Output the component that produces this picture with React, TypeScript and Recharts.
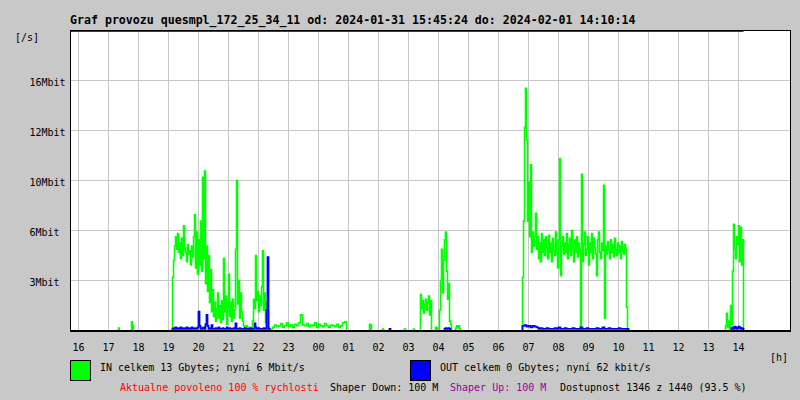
import React from 'react';
import { LineChart, Line, XAxis, YAxis, CartesianGrid, ReferenceLine } from 'recharts';

// ---- axis labels ----
const hourLabels = ['16', '17', '18', '19', '20', '21', '22', '23', '00', '01', '02', '03', '04', '05', '06', '07', '08', '09', '10', '11', '12', '13', '14'];
const yTicks = [3.2, 6.4, 9.6, 12.8, 16];
const yTickLabels = ['3Mbit', '6Mbit', '10Mbit', '12Mbit', '16Mbit'];

// time = minutes after 16:00 (Jan 31); window 15:44 .. 15:44 next day
const windowStart = -16;
const windowEnd = 1424;
const nowMinute = 1330; // 14:10
const limitMbit = 19.136; // allowed rate line (clipped at the top)
const yMax = 19.2;

// ---- IN traffic [Mbit/s] ----
const inEveningStart = 188; // 19:08, every 2 min
const inEvening = [
  3.4, 4.5, 5.4, 6.0, 5.2, 6.2, 5.0, 5.6, 4.6, 5.9, 4.8, 6.7, 5.3, 5.0, 4.4, 5.5, 4.9, 5.1, 4.2, 5.4,
  4.7, 6.0, 7.4, 4.0, 6.3, 3.6, 5.8, 4.2, 7.0, 3.8, 9.8, 4.6, 10.2, 3.0, 5.4, 2.5, 4.8, 1.8, 3.9, 1.2,
  2.6, 0.9, 1.8, 0.6, 1.4, 2.4, 0.8, 1.6, 0.5, 1.9, 0.7, 4.6, 1.2, 2.2, 0.4, 1.5, 3.6, 0.9, 1.8, 0.6,
  2.0, 0.8, 1.3, 5.2, 9.6, 1.7, 3.2, 0.8, 2.4, 1.2, 0.6, 0.3, 0.2, 0.1, 0.3, 0.1, 0.2, 0.1, 0.0, 0.1,
  0.6, 2.0, 1.4, 4.8, 1.9, 2.5, 1.2, 2.2, 1.6, 2.8, 5.1, 1.3, 2.4, 0.5, 1.8, 1.2, 0.2, 0.0, 0.1,
];
const inNightStart = 388; // 22:28, every 4 min
const inNight = [
  0.2, 0.35, 0.25, 0.3, 0.45, 0.2, 0.3, 0.5, 0.25, 0.35, 0.2, 0.4, 0.3, 0.5, 1.0, 0.35, 0.3, 0.45, 0.25,
  0.35, 0.3, 0.5, 0.2, 0.4, 0.3, 0.25, 0.45, 0.3, 0.2, 0.35, 0.3, 0.25, 0.4, 0.2, 0.3, 0.5, 0.55,
];
const inBlips: [number, number][] = [
  [80, 0.15], [106, 0.55], [108, 0.3], [582, 0.4], [584, 0.35], [608, 0.1], [652, 0.1], [670, 0.1], [714, 0.2], [716, 0.15],
];
const inDawnStart = 684; // 03:24
const inDawn = [2.3, 1.4, 1.9, 1.1, 1.7, 2.0, 1.3, 1.8, 2.2, 1.0, 1.9];
const inEarlyStart = 722; // 04:02
const inEarly = [1.3, 3.2, 5.2, 2.4, 4.5, 5.8, 6.3, 3.8, 2.0, 3.0, 0.6, 0.4];
const inLateDawnStart = 754;
const inLateDawn = [0.15, 0.3, 0.2, 0.3, 0.1];
const inMorningStart = 888; // 06:48
const inMorning = [
  3.4, 7.0, 13.0, 15.5, 12.2, 7.0, 9.5, 6.0, 10.6, 5.0, 6.3, 5.4, 6.0, 7.5, 5.2, 6.0, 4.6, 5.6, 4.4, 6.2,
  5.0, 5.8, 4.8, 6.0, 5.3, 4.6, 6.1, 5.0, 5.6, 4.4, 5.9, 5.1, 4.8, 6.3, 5.0, 4.0, 5.8, 11.0, 3.5, 5.4,
  6.0, 4.9, 5.6, 5.0, 6.2, 4.6, 5.5, 5.9, 4.8, 6.4, 5.2, 4.4, 5.8, 5.0, 6.0, 4.7, 5.6, 5.2, 0.1, 10.0,
  4.4, 5.5, 6.3, 4.8, 5.2, 6.0, 4.2, 5.6, 5.0, 6.2, 4.6, 5.9, 5.3, 4.9, 3.5, 5.8, 6.3, 5.0, 4.6, 5.6,
  5.1, 9.3, 0.8, 5.4, 4.9, 5.7, 5.2, 4.6, 5.8, 5.0, 5.5, 4.7, 5.9, 5.2, 4.8, 5.6, 5.0, 5.4, 4.6, 5.7,
  5.1, 4.9, 5.5, 5.2, 1.5,
];
const inAfternoonStart = 1294; // 13:34
const inAfternoon = [0.3, 1.1, 0.2, 0.6, 0.1, 1.6, 0.4, 3.8, 6.8, 5.2, 4.6, 6.0, 5.5, 6.7, 4.4, 6.6, 4.2, 5.8];

// ---- OUT traffic [Mbit/s] ----
const outEveningStart = 188; // every 2 min
const outEvening = [
  0.1, 0.15, 0.1, 0.2, 0.1, 0.1, 0.15, 0.1, 0.2, 0.1, 0.1, 0.15, 0.1, 0.1, 0.2, 0.1, 0.15, 0.1, 0.1, 0.2,
  0.1, 0.1, 0.15, 0.1, 0.1, 0.2, 1.2, 0.3, 0.1, 0.15, 0.1, 0.2, 0.1, 0.4, 1.0, 0.3, 0.1, 0.15, 0.1, 0.35,
  0.1, 0.1, 0.1, 0.15, 0.1, 0.1, 0.2, 0.1, 0.1, 0.1, 0.15, 0.1, 0.1, 0.1, 0.2, 0.1, 0.1, 0.15, 0.1, 0.1,
  0.1, 0.15, 0.1, 0.45, 0.1, 0.1, 0.1, 0.15, 0.1, 0.1, 0.1, 0.1, 0.15, 0.1, 0.1, 0.1, 0.1, 0.1, 0.15, 0.1,
  0.1, 0.1, 0.45, 0.2, 0.1, 0.1, 0.15, 0.1, 0.1, 0.1, 0.1, 0.15, 0.1, 0.1, 1.3, 4.7, 0.1,
];
const outBlips: [number, number][] = [[622, 0.1]];
const outEarlyStart = 732;
const outEarly = [0.1, 0.15, 0.1, 0.1, 0.15, 0.1];
const outMorningStart = 888; // every 4 min
const outMorning = [
  0.3, 0.35, 0.25, 0.3, 0.2, 0.3, 0.25, 0.2, 0.1, 0.15, 0.1, 0.1, 0.15, 0.1, 0.1, 0.1, 0.15, 0.1, 0.2, 0.1,
  0.1, 0.15, 0.1, 0.1, 0.1, 0.15, 0.1, 0.1, 0.1, 0.2, 0.1, 0.1, 0.15, 0.1, 0.1, 0.1, 0.1, 0.15, 0.1, 0.1,
  0.2, 0.1, 0.1, 0.15, 0.1, 0.1, 0.1, 0.1, 0.15, 0.1, 0.1, 0.1, 0.1,
];
const outAfternoonStart = 1306;
const outAfternoon = [0.15, 0.2, 0.1, 0.25, 0.2, 0.1, 0.15, 0.25, 0.2, 0.1, 0.15, 0.1];

type Seg = { start: number; step: number; values: number[] };
type Pt = { m: number; v: number | null };

function buildSeries(segs: Seg[]): Pt[] {
  const pts: Pt[] = [];
  const sorted = [...segs].sort((a, b) => a.start - b.start);
  for (const s of sorted) {
    pts.push({ m: s.start, v: 0 });
    s.values.forEach((v, i) => pts.push({ m: s.start + i * s.step, v }));
    const end = s.start + s.values.length * s.step;
    pts.push({ m: end, v: 0 });
    pts.push({ m: end, v: null });
  }
  return pts;
}

const inData = buildSeries([
  { start: inEveningStart, step: 2, values: inEvening },
  { start: inNightStart, step: 4, values: inNight },
  ...inBlips.map(([m, v]) => ({ start: m, step: 2, values: [v] })),
  { start: inDawnStart, step: 2, values: inDawn },
  { start: inEarlyStart, step: 2, values: inEarly },
  { start: inLateDawnStart, step: 2, values: inLateDawn },
  { start: inMorningStart, step: 2, values: inMorning },
  { start: inAfternoonStart, step: 2, values: inAfternoon },
]);

const outData = buildSeries([
  { start: outEveningStart, step: 2, values: outEvening },
  ...outBlips.map(([m, v]) => ({ start: m, step: 2, values: [v] })),
  { start: outEarlyStart, step: 2, values: outEarly },
  { start: outMorningStart, step: 4, values: outMorning },
  { start: outAfternoonStart, step: 2, values: outAfternoon },
]);

const hourTicks = hourLabels.map((_, i) => i * 60);

const MONO = '"DejaVu Sans Mono", "Liberation Mono", monospace';
const BG = '#c8c8c8';

const XTick = (props: any) => {
  const { x, y, payload } = props;
  const idx = hourTicks.indexOf(payload.value);
  return (
    <text x={x} y={y + 20} textAnchor="middle" fill="#000" fontSize={10} fontFamily={MONO}>
      {hourLabels[idx]}
    </text>
  );
};

const YTick = (props: any) => {
  const { y, payload } = props;
  const idx = yTicks.indexOf(payload.value);
  return (
    <text x={29.5} y={y + 5.5} textAnchor="start" fill="#000" fontSize={10} fontFamily={MONO}>
      {yTickLabels[idx]}
    </text>
  );
};

export default function App() {
  return (
    <div style={{ position: 'absolute', left: 0, top: 0, width: 800, height: 400, background: BG, overflow: 'hidden' }}>
      <div style={{ position: 'absolute', left: 0, top: 0 }}>
        <LineChart width={800} height={400} margin={{ top: 30.5, right: 9.5, bottom: 39.5, left: 10.5 }}>
          <CartesianGrid stroke={BG} strokeWidth={1} fill="#ffffff" />
          <XAxis
            type="number"
            dataKey="m"
            domain={[windowStart, windowEnd]}
            ticks={hourTicks}
            interval={0}
            allowDataOverflow
            axisLine={false}
            tickLine={false}
            tickSize={0}
            tickMargin={0}
            height={30}
            tick={(p: any) => <XTick {...p} />}
          />
          <YAxis
            type="number"
            domain={[0, yMax]}
            ticks={yTicks}
            interval={0}
            allowDataOverflow
            axisLine={false}
            tickLine={{ stroke: BG }}
            tickSize={4}
            width={60}
            tick={(p: any) => <YTick {...p} />}
          />
          <ReferenceLine
            segment={[{ x: windowStart, y: limitMbit }, { x: nowMinute, y: limitMbit }]}
            stroke="#cc0000"
            strokeWidth={1}
          />
          <Line
            data={inData}
            dataKey="v"
            type="stepAfter"
            stroke="#00ff00"
            strokeWidth={1.6}
            dot={false}
            activeDot={false}
            isAnimationActive={false}
            connectNulls={false}
          />
          <Line
            data={outData}
            dataKey="v"
            type="stepAfter"
            stroke="#0000ff"
            strokeWidth={1.8}
            dot={false}
            activeDot={false}
            isAnimationActive={false}
            connectNulls={false}
          />
        </LineChart>
      </div>
      <svg width={800} height={400} style={{ position: 'absolute', left: 0, top: 0, pointerEvents: 'none' }}>
        {/* frame */}
        <rect x={70} y={30} width={721} height={1} fill="#000" />
        <rect x={70} y={30} width={1} height={302} fill="#000" />
        <rect x={790} y={30} width={1} height={302} fill="#000" />
        <rect x={70} y={330} width={721} height={2} fill="#000" />
        {/* title */}
        <text x={70} y={23.5} fontSize={11.6} fontWeight="bold" fontFamily={MONO} fill="#000">
          Graf provozu quesmpl_172_25_34_11 od: 2024-01-31 15:45:24 do: 2024-02-01 14:10:14
        </text>
        <text x={15} y={40.5} fontSize={10} fontFamily={MONO} fill="#000">[/s]</text>
        <text x={770} y={360.5} fontSize={10} fontFamily={MONO} fill="#000">[h]</text>
        {/* legend */}
        <rect x={70.5} y={360.5} width={20} height={20} fill="#00ff00" stroke="#000" strokeWidth={1} />
        <text x={100} y={371} fontSize={10} fontFamily={MONO} fill="#000">IN celkem 13 Gbytes; nyní 6 Mbit/s</text>
        <rect x={410.5} y={360.5} width={20} height={20} fill="#0000ff" stroke="#000" strokeWidth={1} />
        <text x={440} y={371} fontSize={10} fontFamily={MONO} fill="#000">OUT celkem 0 Gbytes; nyní 62 kbit/s</text>
        <text x={120} y={391} fontSize={10} fontFamily={MONO} fill="#ff0000">Aktualne povoleno 100 % rychlosti</text>
        <text x={330} y={391} fontSize={10} fontFamily={MONO} fill="#000">Shaper Down: 100 M</text>
        <text x={450} y={391} fontSize={10} fontFamily={MONO} fill="#990099">Shaper Up: 100 M</text>
        <text x={560} y={391} fontSize={10} fontFamily={MONO} fill="#000">Dostupnost 1346 z 1440 (93.5 %)</text>
      </svg>
    </div>
  );
}
